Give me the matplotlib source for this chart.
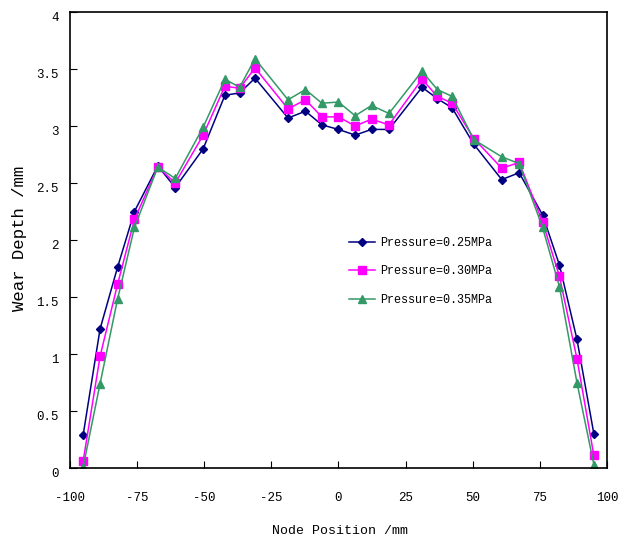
import matplotlib
matplotlib.use("Agg")
import matplotlib.pyplot as plt

positions = [-95.1, -88.8, -82.3, -76.0, -67.3, -60.8, -50.4, -42.3, -36.8, -31.1, -18.8, -12.3, -6.2, 0.0,
             6.2, 12.3, 18.8, 31.1, 36.8, 42.3, 50.4, 60.8, 67.3, 76.0, 82.3, 88.8, 95.1]

wear_025 = [0.29, 1.22, 1.76, 2.25, 2.65, 2.46, 2.80, 3.27, 3.29, 3.42, 3.07, 3.13, 3.01, 2.97,
            2.92, 2.97, 2.97, 3.34, 3.24, 3.16, 2.84, 2.53, 2.59, 2.22, 1.78, 1.13, 0.30]
wear_030 = [0.06, 0.98, 1.61, 2.18, 2.64, 2.50, 2.92, 3.35, 3.33, 3.51, 3.15, 3.23, 3.08, 3.08,
            3.00, 3.06, 3.01, 3.41, 3.26, 3.20, 2.89, 2.63, 2.68, 2.16, 1.68, 0.96, 0.11]
wear_035 = [0.01, 0.74, 1.48, 2.11, 2.64, 2.54, 2.99, 3.41, 3.34, 3.59, 3.23, 3.32, 3.20, 3.21,
            3.09, 3.18, 3.11, 3.48, 3.32, 3.26, 2.88, 2.73, 2.67, 2.11, 1.59, 0.75, 0.03]

labels = ["Pressure=0.25MPa", "Pressure=0.30MPa", "Pressure=0.35MPa"]
x_ticks = [-100, -75, -50, -25, 0, 25, 50, 75, 100]
y_ticks = [0, 0.5, 1, 1.5, 2, 2.5, 3, 3.5, 4]
y_ticklabels = ["0", "0.5", "1", "1.5", "2", "2.5", "3", "3.5", "4"]

plt.rcParams['font.family'] = ['Liberation Mono', 'DejaVu Sans Mono']

fig = plt.figure(figsize=(6.3, 5.42), dpi=100)
ax = fig.add_axes([70/630, 74/542, 537/630, 456/542])

ax.plot(positions, wear_025, color='#000080', marker='D', markersize=4.5, lw=1.1, label=labels[0])
ax.plot(positions, wear_030, color='#FF00FF', marker='s', markersize=5.5, lw=1.1, label=labels[1])
ax.plot(positions, wear_035, color='#339966', marker='^', markersize=6, lw=1.1, label=labels[2])

ax.set_xlim(-100, 100)
ax.set_ylim(0, 4)
ax.set_xticks(x_ticks)
ax.set_xticklabels([str(t) for t in x_ticks], fontsize=9)
ax.set_yticks(y_ticks)
ax.set_yticklabels(y_ticklabels, fontsize=9)
ax.tick_params(axis='both', direction='in', length=5)
ax.tick_params(axis='x', pad=17)
ax.tick_params(axis='y', pad=8)
for lab in ax.get_yticklabels():
    lab.set_va('top')
for s in ax.spines.values():
    s.set_linewidth(1.2)

fig.text(340/630, 1 - 531/542, "Node Position /mm", ha='center', va='center', fontsize=9.5)
fig.text(20/630, 1 - 238/542, "Wear Depth /mm", ha='center', va='center', rotation=90, fontsize=12.5)

ax.legend(loc='upper left', bbox_to_anchor=(0.5, 0.53), frameon=False, fontsize=8.5,
          handlelength=2.2, labelspacing=1.4, handletextpad=0.4)

fig.savefig("out.png", dpi=100)
